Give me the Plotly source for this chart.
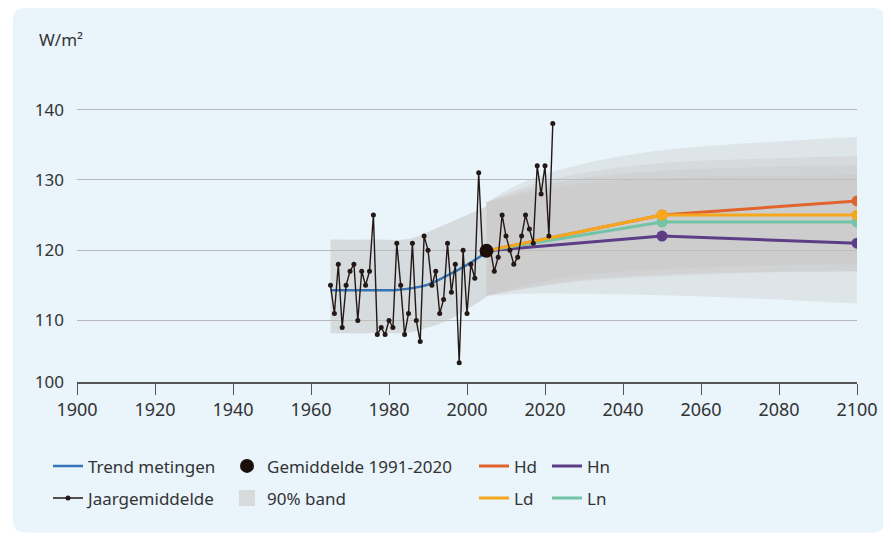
import plotly.graph_objects as go

# jaargemiddelden (W/m2)
jaren = list(range(1965, 2023))
jaargemiddelde = [115, 111, 118, 109, 115, 117, 118, 110, 117, 115,
                  117, 125, 108, 109, 108, 110, 109, 121, 115, 108,
                  111, 121, 110, 107, 122, 120, 115, 117, 111, 113,
                  121, 114, 118, 104, 120, 111, 118, 116, 131, 119.5,
                  120, 120, 117, 119, 125, 122, 120, 118, 119, 122,
                  125, 123, 121, 132, 128, 132, 122, 138]

trend_jaren = [1965, 1975, 1982, 1986, 1990, 1995, 2000, 2005]
trend = [114.3, 114.3, 114.35, 114.6, 115.1, 116.4, 117.9, 119.7]

gem_jaar = [2005]
gem_waarde = [119.9]

# 90% band metingen
band_hist_jaren = [1965, 1975, 1985, 1990, 1995, 2000, 2005]
band_hist_onder = [108.2, 108.2, 108.3, 109.0, 110.0, 111.6, 113.3]
band_hist_boven = [121.5, 121.5, 121.6, 122.6, 123.8, 125.0, 126.2]

# scenario's
scen_jaren = [2005, 2050, 2100]
scenarios = ['Hd', 'Hn', 'Ln', 'Ld']
scen_waarden = {
    'Hd': [119.9, 125, 127],
    'Hn': [119.9, 122, 121],
    'Ln': [119.9, 124, 124],
    'Ld': [119.9, 125, 125],
}
scen_kleur = {'Hd': '#e0642c', 'Hn': '#5e3d87', 'Ln': '#72c4a5', 'Ld': '#f6a71d'}

band_jaren = [2005, 2015, 2030, 2050, 2075, 2100]
band_boven = {
    'Hd': [126.8, 129.8, 132.3, 134.2, 135.3, 136.1],
    'Ld': [126.8, 129.0, 131.0, 132.4, 133.0, 133.4],
    'Ln': [126.8, 128.5, 130.3, 131.3, 131.8, 132.1],
    'Hn': [126.8, 128.0, 129.5, 130.2, 130.5, 130.7],
}
band_onder = {
    'Hd': [113.5, 115.0, 116.5, 117.3, 117.8, 118.0],
    'Ld': [113.5, 114.6, 115.8, 116.5, 116.9, 117.0],
    'Ln': [113.5, 114.5, 115.6, 116.3, 116.8, 117.0],
    'Hn': [113.5, 113.8, 113.8, 113.6, 113.1, 112.4],
}

# page layout (the page body adds 8px around the figure)
OFF = 8
W, H = 891 - OFF, 537 - OFF
ML, MR, MT = 77 - OFF, 34, 99 - OFF
MB = H - (381.7 - OFF)
PW, PH = W - ML - MR, H - MT - MB
FONT = 'Noto Sans'
TXT = '#333333'


def px2paper(px, py):
    # page pixel -> paper coordinates
    return (px - OFF - ML) / PW, (H - MB - (py - OFF)) / PH


fig = go.Figure()


def band(x, onder, boven, kleur):
    fig.add_trace(go.Scatter(x=x, y=onder, mode='lines',
                             line=dict(width=0, shape='spline'),
                             showlegend=False, hoverinfo='skip'))
    fig.add_trace(go.Scatter(x=x, y=boven, mode='lines', fill='tonexty',
                             fillcolor=kleur, line=dict(width=0, shape='spline'),
                             showlegend=False, hoverinfo='skip'))


band(band_hist_jaren, band_hist_onder, band_hist_boven, 'rgba(196,194,192,0.5)')
for s in ['Hd', 'Ld', 'Ln', 'Hn']:
    band(band_jaren, band_onder[s], band_boven[s], 'rgba(198,194,190,0.29)')

fig.add_trace(go.Scatter(x=trend_jaren, y=trend, mode='lines',
                         line=dict(color='#3574b8', width=2.5, shape='spline'),
                         name='Trend metingen', legend='legend', legendrank=1,
                         legendgroup='a1'))

for s in scenarios:
    fig.add_trace(go.Scatter(x=scen_jaren, y=scen_waarden[s], mode='lines',
                             line=dict(color=scen_kleur[s], width=3),
                             name=s, legend='legend3' if s in ('Hd', 'Ld') else 'legend4',
                             legendrank=1 if s in ('Hd', 'Hn') else 2,
                             legendgroup='s' + s))
    fig.add_trace(go.Scatter(x=scen_jaren[1:], y=scen_waarden[s][1:], mode='markers',
                             marker=dict(color=scen_kleur[s], size=11),
                             showlegend=False))

fig.add_trace(go.Scatter(x=jaren, y=jaargemiddelde, mode='lines+markers',
                         line=dict(color='#231815', width=1.4),
                         marker=dict(color='#231815', size=5),
                         name='Jaargemiddelde', legend='legend', legendrank=2,
                         legendgroup='a2'))

fig.add_trace(go.Scatter(x=gem_jaar, y=gem_waarde, mode='markers',
                         marker=dict(color='#1c0f0b', size=14),
                         name='Gemiddelde 1991-2020', legend='legend2', legendrank=1,
                         legendgroup='b1'))

# legend entry for the band
fig.add_trace(go.Scatter(x=[None], y=[None], mode='markers',
                         marker=dict(color='#d8dadb', size=17, symbol='square'),
                         name='90% band', legend='legend2', legendrank=2,
                         legendgroup='b2'))

# achtergrondkaart met ronde hoeken
x0, y0, x1, y1, r = 13, 8, 885, 532, 12
pts = [('M', x0 + r, y0), ('L', x1 - r, y0), ('Q', x1, y0), ('', x1, y0 + r),
       ('L', x1, y1 - r), ('Q', x1, y1), ('', x1 - r, y1), ('L', x0 + r, y1),
       ('Q', x0, y1), ('', x0, y1 - r), ('L', x0, y0 + r), ('Q', x0, y0), ('', x0 + r, y0)]
path = ''
for cmd, px, py in pts:
    a, b = px2paper(px, py)
    path += (cmd + ' ' if cmd else ' ') + '%.5f,%.5f ' % (a, b)
path += 'Z'

leg_y = px2paper(0, 448)[1]
legend_common = dict(orientation='v', yanchor='top', y=leg_y, xanchor='left',
                     bgcolor='rgba(0,0,0,0)', font=dict(family=FONT, size=17, color=TXT),
                     itemwidth=30, tracegroupgap=7, traceorder='grouped')

fig.update_layout(
    width=W, height=H,
    margin=dict(l=ML, r=MR, t=MT, b=MB, autoexpand=False),
    paper_bgcolor='white', plot_bgcolor='rgba(0,0,0,0)',
    font=dict(family=FONT, size=17, color=TXT),
    shapes=[dict(type='path', path=path, xref='paper', yref='paper',
                 fillcolor='#e9f4fb', line=dict(width=0), layer='below')],
    xaxis=dict(range=[1900, 2100], tickvals=list(range(1900, 2101, 20)),
               showgrid=False, zeroline=False, showline=True, linecolor='#555555',
               linewidth=1.5, ticks='outside', ticklen=11, tickcolor='#555555',
               tickfont=dict(size=18, color=TXT)),
    yaxis=dict(range=[101.25, 141.5], tickvals=[101.25, 110, 120, 130, 140],
               ticktext=['100', '110', '120', '130', '140'],
               showgrid=True, gridcolor='#b8b8b8', gridwidth=1, zeroline=False,
               showline=False, ticklabelstandoff=12, tickfont=dict(size=17, color=TXT)),
    legend=dict(legend_common, x=px2paper(48, 0)[0]),
    legend2=dict(legend_common, x=px2paper(227, 0)[0]),
    legend3=dict(legend_common, x=px2paper(474, 0)[0]),
    legend4=dict(legend_common, x=px2paper(547, 0)[0]),
    annotations=[dict(text='W/m²', x=px2paper(37, 0)[0], y=px2paper(0, 40)[1],
                      xref='paper', yref='paper', xanchor='left', yanchor='middle',
                      showarrow=False, font=dict(size=17, color=TXT))],
    showlegend=True,
)

fig.write_html('out.html')
